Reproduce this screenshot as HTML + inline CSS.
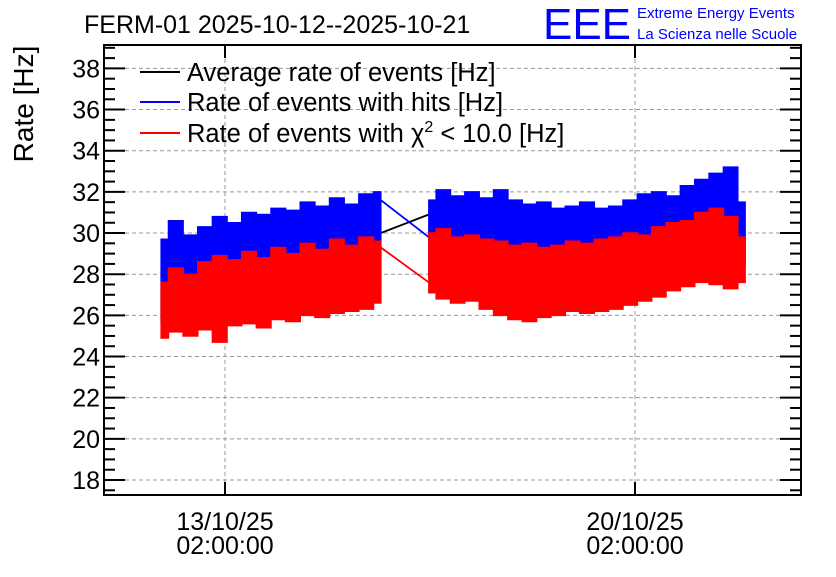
<!DOCTYPE html>
<html><head><meta charset="utf-8"><style>
body{margin:0;background:#fff;}
svg text{font-family:"Liberation Sans",sans-serif;}
</style></head><body>
<svg id="c" width="836" height="572" xmlns="http://www.w3.org/2000/svg">
<text x="84" y="33" font-size="25">FERM-01 2025-10-12--2025-10-21</text>
<text x="543" y="39" font-size="44" fill="#0000ff" textLength="88" lengthAdjust="spacingAndGlyphs">EEE</text>
<text x="637" y="18" font-size="15" fill="#0000ff">Extreme Energy Events</text>
<text x="637" y="39" font-size="15" fill="#0000ff">La Scienza nelle Scuole</text>
<text transform="translate(33,104) rotate(-90)" font-size="28" text-anchor="middle">Rate [Hz]</text>
<g id="grid"></g><g id="series"></g><g id="axes"></g>
<g>
<line x1="140" y1="72" x2="180" y2="72" stroke="#000" stroke-width="2"/>
<text x="187" y="81" font-size="25.5">Average rate of events [Hz]</text>
<line x1="140" y1="102" x2="180" y2="102" stroke="#0000ff" stroke-width="2"/>
<text x="187" y="111" font-size="25.5">Rate of events with hits [Hz]</text>
<line x1="140" y1="133" x2="180" y2="133" stroke="#ff0000" stroke-width="2"/>
<text x="187" y="142" font-size="25.5">Rate of events with χ<tspan dy="-10" font-size="16">2</tspan><tspan dy="10"> &lt; 10.0 [Hz]</tspan></text>
</g>
</svg>
<script>
// time in days relative to 13/10/25 02:00:00
const yTicks=[18,20,22,24,26,28,30,32,34,36,38];
const xTickDays=[0,7];
const xTickDate=["13/10/25","20/10/25"];
const xTickTime=["02:00:00","02:00:00"];
const t1=[-1.09,-0.84,-0.59,-0.34,-0.09,0.16,0.41,0.66,0.91,1.16,1.41,1.66,1.91,2.16,2.41,2.66];
const blueMax1=[29.7,30.6,29.9,30.3,30.8,30.5,31.0,30.9,31.2,31.1,31.5,31.3,31.7,31.4,31.9,32.0];
const redMax1=[27.6,28.3,28.0,28.6,28.9,28.7,29.1,28.8,29.3,29.0,29.5,29.2,29.7,29.4,29.8,29.6];
const redMin1=[24.9,25.2,25.0,25.3,24.7,25.5,25.6,25.4,25.8,25.7,26.0,25.9,26.1,26.2,26.3,26.6];
const t2=[3.48,3.73,3.97,4.22,4.46,4.71,4.95,5.20,5.44,5.69,5.93,6.18,6.43,6.67,6.92,7.16,7.41,7.65,7.90,8.14,8.39,8.63,8.88];
const blueMax2=[31.6,32.1,31.8,32.0,31.7,32.1,31.6,31.4,31.5,31.2,31.3,31.5,31.2,31.3,31.6,31.9,32.0,31.8,32.3,32.6,32.9,33.2,31.5];
const redMax2=[30.0,30.2,29.8,29.9,29.7,29.6,29.4,29.5,29.3,29.4,29.6,29.5,29.7,29.8,30.0,29.9,30.3,30.5,30.6,31.0,31.2,30.8,29.8];
const redMin2=[27.1,26.8,26.6,26.7,26.3,26.0,25.8,25.7,25.9,26.0,26.2,26.1,26.2,26.3,26.5,26.7,26.9,27.2,27.4,27.6,27.5,27.3,27.6];
const linkT=[2.66,3.48];
const avgLink=[30.0,30.9];
const blueLink=[31.6,29.8];
const redLink=[29.3,27.6];

const L=104,R=801,T=45,B=495;
const X=d=>225+d*(410/7);
const Y=v=>480-(v-18)*20.58;
const NS="http://www.w3.org/2000/svg";
function mk(tag,parent,attrs){const e=document.createElementNS(NS,tag);for(const k in attrs)e.setAttribute(k,attrs[k]);parent.appendChild(e);return e;}
const grid=document.getElementById('grid'),ser=document.getElementById('series'),ax=document.getElementById('axes');
yTicks.forEach(v=>{
  const g=mk('line',grid,{x1:L,x2:R,y1:Y(v),y2:Y(v),stroke:'#999','stroke-dasharray':'4,3','stroke-width':1});
  
  
  const t=mk('text',ax,{x:100,y:Y(v)+9,'font-size':25,'text-anchor':'end'});t.textContent=v;
  
  
});
xTickDays.forEach((d,i)=>{
  const g=mk('line',grid,{x1:X(d),x2:X(d),y1:T,y2:B,stroke:'#999','stroke-dasharray':'4,3','stroke-width':1});
  
  
  const t=mk('text',ax,{x:X(d),y:530,'font-size':25,'text-anchor':'middle'});t.textContent=xTickDate[i];
  
  
  const t2e=mk('text',ax,{x:X(d),y:554,'font-size':25,'text-anchor':'middle'});t2e.textContent=xTickTime[i];
  
  
  mk('line',ax,{x1:X(d),x2:X(d),y1:B,y2:B-13,stroke:'#000','stroke-width':2});
  mk('line',ax,{x1:X(d),x2:X(d),y1:T,y2:T+13,stroke:'#000','stroke-width':2});
});
for(let v=17.5;v<=39;v+=0.5){const y=Y(v);if(y<T||y>B)continue;const big=(v%2===0);
  mk('line',ax,{x1:L,x2:L+(big?21:11),y1:y,y2:y,stroke:'#000','stroke-width':2});mk('line',ax,{x1:R,x2:R-(big?21:11),y1:y,y2:y,stroke:'#000','stroke-width':2});}
const frame=mk('rect',ax,{x:L,y:T,width:R-L,height:B-T,fill:'none',stroke:'#000','stroke-width':2});


function band(t,top,bot,color,name){
  let pts=[];
  t.forEach((d,i)=>{pts.push(X(d)+','+Y(top[i]));if(i<t.length-1){const m=(X(d)+X(t[i+1]))/2;pts.push(m+','+Y(top[i]));pts.push(m+','+Y(top[i+1]));}});
  for(let i=t.length-1;i>=0;i--){pts.push(X(t[i])+','+Y(bot[i]));if(i>0){const m=(X(t[i])+X(t[i-1]))/2;pts.push(m+','+Y(bot[i]));pts.push(m+','+Y(bot[i-1]));}}
  const p=mk('polygon',ser,{points:pts.join(' '),fill:color,stroke:color,'stroke-width':1.5});
  
  
}
function link(vals,color,name){
  const l=mk('line',ser,{x1:X(linkT[0]),y1:Y(vals[0]),x2:X(linkT[1]),y2:Y(vals[1]),stroke:color,'stroke-width':1.8});
  
  
}
link(avgLink,'#000','average-rate-gap-line');
link(blueLink,'#0000ff','hits-rate-gap-line');
link(redLink,'#ff0000','chi2-rate-gap-line');
band(t1,blueMax1,redMin1.map(v=>v+0.8),'#0000ff','hits-rate-band-1');
band(t2,blueMax2,redMin2.map(v=>v+0.8),'#0000ff','hits-rate-band-2');
band(t1,redMax1,redMin1,'#ff0000','chi2-rate-band-1');
band(t2,redMax2,redMin2,'#ff0000','chi2-rate-band-2');
</script>
</body></html>
